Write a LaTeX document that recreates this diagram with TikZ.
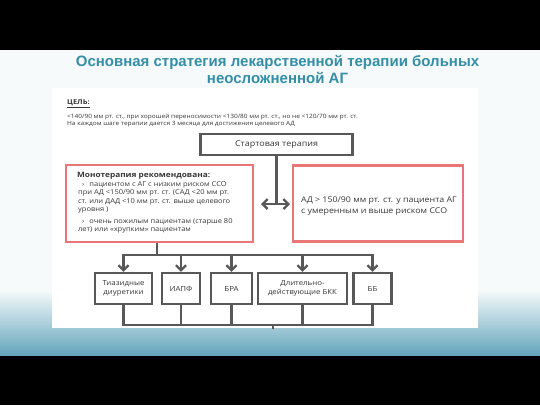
\documentclass[tikz,border=0pt]{standalone}
\usepackage{fontspec}
\setmainfont[FakeStretch=1.12]{Open Sans}
\newfontfamily\titlefont{Liberation Sans}
\usetikzlibrary{arrows.meta, positioning}

\definecolor{slidebg}{RGB}{246,250,251}
\definecolor{swoosh}{RGB}{100,165,188}
\definecolor{titleteal}{RGB}{52,142,165}
\definecolor{lineg}{RGB}{88,88,88}
\definecolor{boxred}{RGB}{232,118,118}
\definecolor{txtg}{RGB}{55,55,55}

\begin{document}
\begin{tikzpicture}[x=1pt, y=-1pt, >={Straight Barb[length=5pt,width=10pt]}, line width=2.3pt,
    gbox/.style = {draw=lineg, line width=2.4pt, fill=white, inner sep=1pt, align=center, text=txtg, font=\fontsize{7}{8.5}\selectfont},
    rbox/.style = {draw=boxred, line width=2.6pt, fill=white, inner sep=0pt},
    lbl/.style = {inner sep=0pt, text=txtg, align=left}]

      % Slide
      \useasboundingbox (0,0) rectangle (540,405);
      \fill[black] (0,0) rectangle (540,405);
      \fill[slidebg] (0,50) rectangle (540,355);
      \shade[top color=slidebg, bottom color=swoosh] (0,290) rectangle (540,355);
      \fill[white] (52,88) rectangle (478,328);

      % Title and goal
      \node[font=\titlefont\bfseries\fontsize{15}{17}\selectfont, text=titleteal, align=center] (title) at (277.5,69.5)
        {Основная стратегия лекарственной терапии больных\\неосложненной АГ};
      \node[lbl, anchor=base west, font=\bfseries\fontsize{6.7}{7}\selectfont] (goal) at (66,104) {\underline{ЦЕЛЬ:}};
      \node[lbl, anchor=base west, font=\fontsize{5.85}{7.5}\selectfont] (goaltext) at (66,125.5)
        {<140/90 мм рт. ст., при хорошей переносимости <130/80 мм рт. ст., но не <120/70 мм рт. ст.\\
         На каждом шаге терапии дается 3 месяца для достижения целевого АД};

      % Nodes
      \node[gbox, minimum width=152pt, minimum height=21pt, font=\fontsize{8}{9}\selectfont] (start) at (276.5,144.5) {Стартовая терапия};
      \node[rbox, minimum width=187pt, minimum height=77pt] (mono) at (159.5,203.5) {};
      \node[rbox, minimum width=170pt, minimum height=76pt] (combo) at (378,203.5) {};

      \node[lbl, anchor=base west, font=\bfseries\fontsize{7.4}{8}\selectfont] (monohead) at (76,177) {Монотерапия рекомендована:};
      \node[lbl, anchor=base west, font=\fontsize{6.7}{8.3}\selectfont] (monolist) at (77,231.5)
        {\hspace*{4pt}›\hspace{5pt}пациентом с АГ с низким риском ССО\\
         при АД <150/90 мм рт. ст. (САД <20 мм рт.\\
         ст. или ДАД <10 мм рт. ст. выше целевого\\
         уровня )\\[3.5pt]
         \hspace*{4pt}›\hspace{5pt}очень пожилым пациентам (старше 80\\
         лет) или «хрупким» пациентам};
      \node[lbl, anchor=base west, font=\fontsize{7.9}{10.5}\selectfont] (combotext) at (300,213)
        {АД > 150/90 мм рт. ст. у пациента АГ\\с умеренным и выше риском ССО};

      \node[gbox, minimum width=57pt, minimum height=31pt] (thz) at (123.5,288.5) {Тиазидные\\диуретики};
      \node[gbox, minimum width=38pt, minimum height=31pt] (iapf) at (181,288.5) {ИАПФ};
      \node[gbox, minimum width=41pt, minimum height=31pt] (bra) at (231.5,288.5) {БРА};
      \node[gbox, minimum width=89pt, minimum height=31pt] (bkk) at (302.5,288.5) {Длительно-\\действующие БКК};
      \node[gbox, minimum width=38pt, minimum height=31pt] (bb) at (372.5,288.5) {ББ};

      \coordinate (split) at (276.5,204);
      \coordinate (al) at (261,204);
      \coordinate (ar) at (290,204);
      \coordinate (bus) at (157,255);
      \coordinate (col) at (273,325);
      \coordinate (colend) at (273,329);

      % Connectors
      \draw[lineg] (start) -- (split);
      \draw[lineg, <->] (al) -- (ar);
      \draw[lineg] (mono.south -| bus) -- (bus);
      \draw[lineg, line cap=rect] (thz.north |- bus) -- (bb.north |- bus);
      \foreach \b in {thz, iapf, bra, bkk, bb}
        \draw[lineg, ->] (\b.north |- bus) -- (\b.north);
      \draw[lineg] (thz.south) -- (thz.south |- col) -- (bb.south |- col) -- (bb.south);
      \foreach \b in {iapf, bra, bkk}
        \draw[lineg] (\b.south) -- (\b.south |- col);
      \draw[lineg, line width=1.2pt] (col) -- (colend);

    \end{tikzpicture}
\end{document}
